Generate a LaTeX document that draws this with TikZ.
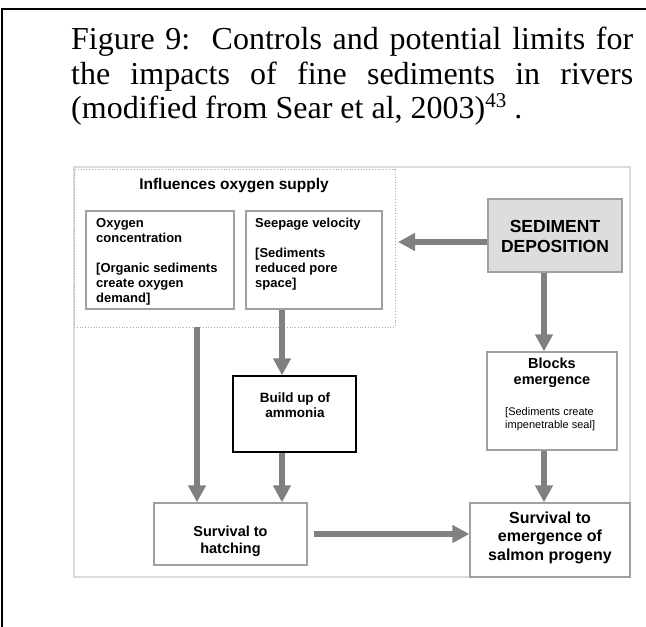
\documentclass[tikz,border=0pt]{standalone}
\usepackage{fontspec}
\setmainfont{Liberation Serif}
\newfontfamily\arialfont{Liberation Sans}
\usetikzlibrary{arrows.meta}

\definecolor{arrowgray}{HTML}{808080}
\definecolor{boxgray}{HTML}{A0A0A0}
\definecolor{framegray}{HTML}{DCDCDC}
\definecolor{dotgray}{HTML}{A8A8A8}
\definecolor{sedfill}{HTML}{DDDDDD}

% invisible rule fixing the height of a first line of text
\newcommand\myhtstrut[1]{\rule{0pt}{#1}}

\tikzset{
  gbox/.style={draw=boxgray, line width=1.3pt, fill=white, inner sep=0pt},
  flow/.style={draw=arrowgray, line width=6pt, -{Triangle[length=17pt,width=17pt]}},
  txt/.style={inner sep=0pt, text=black},
  title/.style={txt, anchor=base west, font=\fontsize{32}{34}\selectfont},
}

\begin{document}
\begin{tikzpicture}[x=1pt, y=-1pt]
\useasboundingbox (0,0) rectangle (646,627);
\fill[white] (0,0) rectangle (646,627);

% page rules at top and left
\draw[line width=2pt] (2,627) -- (2,8.5) -- (646,8.5);

% caption
\node[title] (cap1) at (71,49.5) {\makebox[562pt][s]{Figure 9:\ \ Controls and potential limits for}};
\node[title] (cap2) at (71,84) {\makebox[562pt][s]{the impacts of fine sediments in rivers}};
\node[title] (cap3) at (71,118) {(modified from Sear et al, 2003)\raisebox{11pt}{\fontsize{21}{21}\selectfont 43} .};

% diagram frame
\node[draw=framegray, line width=1.5pt, inner sep=0pt, minimum width=556pt, minimum height=410pt] (frame) at (352,372) {};

% dotted group box
\node[draw=dotgray, line width=0.8pt, dotted, inner sep=0pt, minimum width=321pt, minimum height=158pt] (infl) at (234.5,248) {};
\node[txt, anchor=base, font=\arialfont\bfseries\fontsize{15.5}{17}\selectfont] (infltxt) at (234,189) {Influences oxygen supply};

% boxes
\node[gbox, minimum width=148pt, minimum height=98pt] (oxy) at (160,260) {};
\node[gbox, minimum width=136pt, minimum height=98pt] (seep) at (314,260) {};
\node[gbox, fill=sedfill, minimum width=134pt, minimum height=73pt] (sed) at (555,235.5) {};
\node[gbox, draw=black, minimum width=123pt, minimum height=76pt] (build) at (294.5,414) {};
\node[gbox, minimum width=130pt, minimum height=98pt] (blk) at (552,401) {};
\node[gbox, minimum width=153pt, minimum height=62pt] (hatch) at (230.5,534) {};
\node[gbox, minimum width=160pt, minimum height=74pt] (emerg) at (550,540) {};

% box texts
\node[txt, anchor=north west, align=left, font=\arialfont\bfseries\fontsize{13}{15}\selectfont] (oxytxt) at (96,216)
  {\myhtstrut{11pt}Oxygen\\concentration\\[15pt]{[}Organic sediments\\create oxygen\\demand]};
\node[txt, anchor=north west, align=left, font=\arialfont\bfseries\fontsize{13}{15}\selectfont] (seeptxt) at (255,216)
  {\myhtstrut{11pt}Seepage velocity\\[15pt]{[}Sediments\\reduced pore\\space]};
\node[txt, anchor=north, align=center, font=\arialfont\bfseries\fontsize{17.5}{20}\selectfont] (sedtxt) at (555,218)
  {\myhtstrut{14pt}SEDIMENT\\DEPOSITION};
\node[txt, anchor=north, align=center, font=\arialfont\bfseries\fontsize{14.5}{16}\selectfont] (blktxt) at (552,356)
  {\myhtstrut{12pt}Blocks\\emergence};
\node[txt, anchor=north west, align=left, font=\arialfont\fontsize{11}{13}\selectfont] (blknote) at (505,406)
  {\myhtstrut{9pt}{[}Sediments create\\impenetrable seal]};
\node[txt, anchor=north, align=center, font=\arialfont\bfseries\fontsize{13.5}{15}\selectfont] (buildtxt) at (295,391)
  {\myhtstrut{11pt}Build up of\\ammonia};
\node[txt, anchor=north, align=center, font=\arialfont\bfseries\fontsize{14.5}{17}\selectfont] (hatchtxt) at (230.5,524)
  {\myhtstrut{12pt}Survival to\\hatching};
\node[txt, anchor=north, align=center, font=\arialfont\bfseries\fontsize{16}{18.5}\selectfont] (emergtxt) at (550,510)
  {\myhtstrut{13pt}Survival to\\emergence of\\salmon progeny};

% arrow columns and ends
\coordinate (lcol) at (197,0);
\coordinate (mcol) at (282,0);
\coordinate (rcol) at (544,0);
\coordinate (sedtip) at (398,242);

% connectors
\draw[flow] (sed.west |- sedtip) -- (sedtip);
\draw[flow] (sed.south -| rcol) -- (blk.north -| rcol);
\draw[flow] (blk.south -| rcol) -- (emerg.north -| rcol);
\draw[flow] (infl.south -| lcol) -- (hatch.north -| lcol);
\draw[flow] (seep.south -| mcol) -- (build.north -| mcol);
\draw[flow] (build.south -| mcol) -- (hatch.north -| mcol);
\draw[flow] ([xshift=6pt]hatch.east) -- (emerg.west |- hatch.east);
\end{tikzpicture}
\end{document}
